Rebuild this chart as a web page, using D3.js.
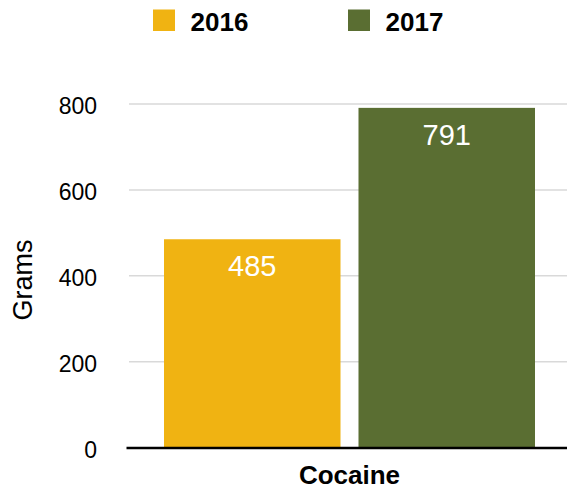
<!DOCTYPE html>
<html><head><meta charset="utf-8">
<script src="https://cdn.jsdelivr.net/npm/d3@7"></script>
<style>body{margin:0;background:#fff;} text{font-family:"Liberation Sans",Arial,Helvetica,sans-serif;}</style>
</head><body><svg id="c" width="567" height="491"></svg>
<script>
const categories = ["Cocaine"];
const seriesNames = ["2016", "2017"];
const values2016 = [485];
const values2017 = [791];
const yTicks = [0, 200, 400, 600, 800];
const colors = ["#F0B312", "#5A6E32"];
const yTitle = "Grams";

const svg = d3.select("#c");
const m = {left: 127, right: 0, top: 104, bottom: 447.5};
const y = d3.scaleLinear().domain([0, 800]).range([m.bottom, m.top]);
const x0 = d3.scaleBand().domain(categories).range([164, 535]).padding(0);
const x1 = d3.scaleBand().domain(seriesNames).range([0, x0.bandwidth()]).paddingInner(0.0925).paddingOuter(0);

// grid
svg.append("g").selectAll("line").data(yTicks.filter(d => d > 0)).join("line")
  .attr("x1", 129).attr("x2", 567).attr("y1", d => y(d)).attr("y2", d => y(d))
  .attr("stroke", "#d9d9d9").attr("stroke-width", 1.5);

// y axis labels
const yAxis = d3.axisLeft(y).tickValues(yTicks).tickSize(0).tickPadding(0);
const ga = svg.append("g").attr("transform", "translate(97,0)").call(yAxis);
ga.select(".domain").remove();
ga.selectAll("text").attr("font-size", 23).attr("fill", "#000").attr("dy", "0.42em")
  .style("font-family", '"Liberation Sans",Arial,sans-serif');

// bars
const data = categories.map((c, i) => ({cat: c, vals: [values2016[i], values2017[i]]}));
const g = svg.append("g");
data.forEach(d => {
  seriesNames.forEach((s, j) => {
    const v = d.vals[j];
    const bx = x0(d.cat) + x1(s);
    g.append("rect").attr("x", bx).attr("width", x1.bandwidth())
      .attr("y", y(v)).attr("height", y(0) - y(v)).attr("fill", colors[j]);
    g.append("text").attr("x", bx + x1.bandwidth() / 2).attr("y", y(v) + 37)
      .attr("text-anchor", "middle").attr("font-size", 29).attr("fill", "#fff").text(v);
  });
});

// x axis line
svg.append("line").attr("x1", 126.5).attr("x2", 567).attr("y1", 448).attr("y2", 448)
  .attr("stroke", "#000").attr("stroke-width", 2.5);

// x category labels
const xAxis = d3.axisBottom(x0).tickSize(0).tickPadding(0);
const gx = svg.append("g").attr("transform", "translate(0,483.5)").call(xAxis);
gx.select(".domain").remove();
gx.selectAll("text").attr("font-size", 26).attr("font-weight", "bold").attr("fill", "#000")
  .attr("dy", 0).style("font-family", '"Liberation Sans",Arial,sans-serif');

// y title
svg.append("text").attr("transform", "translate(32,280) rotate(-90)")
  .attr("text-anchor", "middle").attr("font-size", 27).text(yTitle);

// legend
const legX = [153, 348];
seriesNames.forEach((s, j) => {
  svg.append("rect").attr("x", legX[j]).attr("y", 9.5).attr("width", 22).attr("height", 21.5).attr("fill", colors[j]);
  svg.append("text").attr("x", legX[j] + 37.5).attr("y", 30.7).attr("font-size", 26)
    .attr("font-weight", "bold").text(s);
});
</script></body></html>
